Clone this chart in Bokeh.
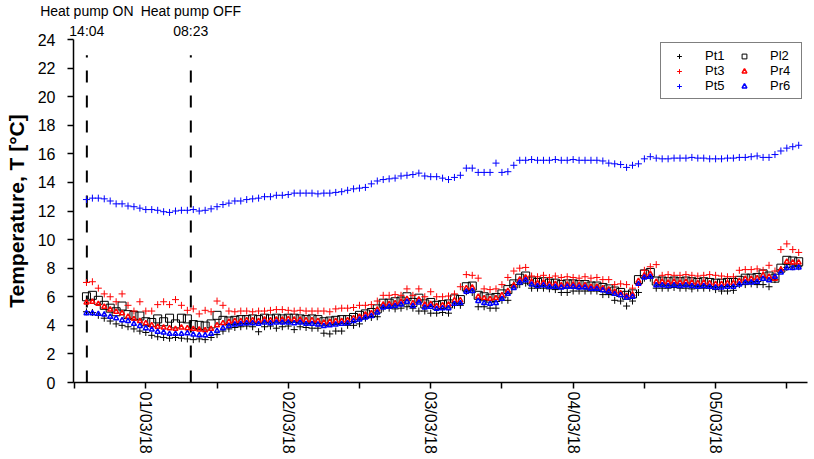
import pandas as pd
from bokeh.plotting import figure
from bokeh.models import (Range1d, FixedTicker, Legend, LegendItem, DatetimeTickFormatter,
                          DatetimeAxis)
from bokeh.embed import file_html
from bokeh.resources import INLINE

FONT = "Liberation Sans"

# hourly readings from 28/02/18 14:00 to 05/03/18 14:00
START = "2018-02-28 14:00"

PT1 = [4.95, 4.9, 4.7, 4.5, 4.3, 4.1, 4.0, 3.9, 3.75, 3.6,
       3.5, 3.3, 3.2, 3.15, 3.1, 3.15, 3.1, 3.05, 3.0, 3.05,
       3.0, 3.15, 3.35, 3.6, 3.75, 3.85, 3.9, 3.95, 3.9, 3.55,
       3.9, 3.95, 3.8, 3.9, 3.95, 3.7, 3.9, 3.85, 3.8, 3.8,
       3.45, 3.4, 3.6, 3.6, 4.0, 4.0, 4.1, 4.5, 4.55, 4.6,
       5.2, 5.2, 5.15, 5.2, 5.3, 5.2, 5.0, 5.0, 4.85, 4.85,
       4.9, 4.85, 5.4, 5.4, 6.35, 6.3, 5.3, 5.3, 5.2, 5.2,
       5.75, 5.75, 6.85, 6.85, 6.95, 6.6, 6.6, 6.6, 6.55, 6.5,
       6.3, 6.3, 6.4, 6.4, 6.4, 6.4, 6.4, 6.15, 6.15, 5.75,
       5.7, 5.35, 5.7, 6.3, 7.3, 7.3, 6.6, 6.6, 6.6, 6.65,
       6.6, 6.6, 6.55, 6.6, 6.6, 6.6, 6.5, 6.4, 6.4, 6.45,
       6.85, 6.85, 6.9, 6.85, 6.85, 6.7, 7.2, 7.9, 8.05, 8.1,
       8.1]

PL2 = [6.0, 6.1, 5.75, 5.4, 5.2, 4.95, 5.35, 4.75, 4.7, 4.65,
       4.25, 4.2, 4.45, 4.25, 4.5, 4.1, 4.5, 4.45, 4.05, 4.0,
       3.95, 4.1, 4.7, 4.35, 4.3, 4.35, 4.4, 4.4, 4.45, 4.4,
       4.5, 4.45, 4.5, 4.45, 4.5, 4.5, 4.45, 4.4, 4.45, 4.4,
       4.25, 4.3, 4.35, 4.4, 4.4, 4.55, 4.7, 4.8, 4.9, 5.15,
       5.55, 5.55, 5.65, 5.7, 6.0, 5.6, 5.9, 5.5, 5.6, 5.4,
       5.45, 5.5, 5.85, 5.8, 6.7, 6.75, 6.1, 6.0, 5.9, 5.95,
       6.2, 6.5, 6.9, 7.3, 7.45, 7.1, 7.0, 7.05, 6.95, 6.95,
       6.85, 6.9, 6.9, 6.85, 6.85, 6.75, 6.75, 6.65, 6.55, 6.4,
       6.3, 6.1, 6.2, 7.2, 7.6, 7.7, 7.1, 7.1, 7.05, 7.1,
       7.05, 7.1, 7.05, 7.0, 7.05, 7.0, 6.95, 6.95, 7.0, 7.0,
       7.15, 7.3, 7.3, 7.35, 7.6, 7.45, 7.3, 8.0, 8.55, 8.5,
       8.45]

PT3 = [7.0, 7.05, 6.6, 6.2, 6.0, 5.65, 6.2, 5.4, 5.0, 5.65,
       5.0, 5.0, 5.45, 5.65, 5.45, 5.8, 5.4, 5.05, 5.15, 4.8,
       5.05, 4.95, 5.7, 5.4, 5.0, 4.95, 5.0, 5.0, 4.95, 5.0,
       5.0, 5.05, 5.1, 5.1, 5.05, 5.0, 5.05, 5.0, 5.0, 5.0,
       5.0, 4.95, 5.15, 5.2, 5.2, 5.25, 5.4, 5.4, 5.45, 5.7,
       6.1, 6.1, 6.15, 6.1, 6.55, 6.1, 6.55, 6.0, 6.35, 6.0,
       6.0, 6.05, 6.2, 6.7, 7.55, 7.5, 7.3, 6.55, 6.5, 6.55,
       6.85, 7.35, 7.8, 8.0, 8.05, 7.45, 7.4, 7.5, 7.35, 7.45,
       7.35, 7.4, 7.35, 7.3, 7.4, 7.3, 7.35, 7.2, 7.2, 6.85,
       6.9, 6.85, 6.6, 6.85, 7.85, 8.1, 8.25, 7.5, 7.55, 7.5,
       7.5, 7.55, 7.5, 7.45, 7.5, 7.55, 7.5, 7.45, 7.4, 7.4,
       7.85, 7.9, 7.9, 7.95, 7.85, 8.2, 7.8, 9.3, 9.7, 9.3,
       9.1]

PR4 = [5.6, 5.65, 5.5, 5.3, 5.1, 4.95, 4.85, 4.6, 4.45, 4.3,
       4.15, 4.0, 3.9, 3.85, 3.8, 3.75, 3.85, 3.8, 3.75, 3.7,
       3.65, 3.75, 4.0, 4.15, 4.25, 4.3, 4.3, 4.35, 4.35, 4.3,
       4.4, 4.35, 4.4, 4.4, 4.45, 4.4, 4.4, 4.35, 4.35, 4.3,
       4.2, 4.25, 4.3, 4.3, 4.35, 4.5, 4.6, 4.75, 4.85, 5.1,
       5.45, 5.5, 5.55, 5.65, 5.85, 5.55, 5.8, 5.45, 5.5, 5.35,
       5.4, 5.45, 5.75, 5.75, 6.6, 6.65, 6.0, 5.9, 5.85, 5.9,
       6.1, 6.4, 6.8, 7.2, 7.35, 7.05, 6.95, 7.0, 6.9, 6.9,
       6.8, 6.85, 6.85, 6.8, 6.8, 6.7, 6.7, 6.6, 6.5, 6.35,
       6.25, 6.05, 6.15, 7.1, 7.5, 7.6, 7.05, 7.05, 7.0, 7.05,
       7.0, 7.05, 7.0, 6.95, 7.0, 6.95, 6.9, 6.9, 6.95, 6.95,
       7.1, 7.25, 7.25, 7.3, 7.5, 7.4, 7.25, 7.9, 8.45, 8.4,
       8.4]

PT5 = [12.8, 12.9, 12.9, 12.85, 12.7, 12.5, 12.5, 12.35, 12.3, 12.2,
       12.1, 12.1, 12.05, 11.95, 11.9, 12.0, 12.05, 12.05, 12.1, 12.0,
       12.05, 12.15, 12.3, 12.45, 12.55, 12.7, 12.7, 12.8, 12.85, 12.9,
       13.0, 13.0, 13.1, 13.1, 13.15, 13.25, 13.25, 13.25, 13.25, 13.2,
       13.25, 13.25, 13.3, 13.35, 13.45, 13.55, 13.6, 13.65, 13.9, 14.1,
       14.2, 14.25, 14.3, 14.45, 14.5, 14.55, 14.65, 14.45, 14.4, 14.4,
       14.3, 14.2, 14.35, 14.5, 15.0, 15.0, 14.7, 14.7, 14.7, 15.35,
       14.7, 14.75, 15.2, 15.55, 15.55, 15.6, 15.55, 15.55, 15.55, 15.6,
       15.55, 15.55, 15.6, 15.55, 15.55, 15.55, 15.55, 15.5, 15.35, 15.3,
       15.25, 15.05, 15.2, 15.3, 15.65, 15.8, 15.7, 15.65, 15.65, 15.7,
       15.7, 15.7, 15.75, 15.7, 15.7, 15.65, 15.65, 15.65, 15.7, 15.7,
       15.75, 15.75, 15.8, 15.85, 15.75, 15.75, 15.95, 16.2, 16.4, 16.5,
       16.6]

PR6 = [4.85, 4.85, 4.8, 4.75, 4.6, 4.5, 4.35, 4.3, 4.1, 3.95,
       3.8, 3.7, 3.55, 3.5, 3.4, 3.4, 3.4, 3.45, 3.35, 3.3,
       3.3, 3.4, 3.6, 3.8, 3.95, 4.05, 4.1, 4.15, 4.15, 4.1,
       4.2, 4.15, 4.2, 4.2, 4.2, 4.15, 4.2, 4.1, 4.1, 4.05,
       3.95, 4.0, 4.05, 4.1, 4.15, 4.3, 4.4, 4.55, 4.65, 4.9,
       5.25, 5.3, 5.35, 5.45, 5.65, 5.35, 5.6, 5.25, 5.3, 5.15,
       5.2, 5.2, 5.5, 5.55, 6.35, 6.4, 5.7, 5.55, 5.5, 5.55,
       5.85, 6.2, 6.6, 7.0, 7.15, 6.85, 6.75, 6.8, 6.7, 6.7,
       6.65, 6.7, 6.7, 6.65, 6.65, 6.55, 6.55, 6.45, 6.35, 6.2,
       6.1, 5.95, 6.0, 6.9, 7.35, 7.4, 6.8, 6.8, 6.75, 6.8,
       6.75, 6.8, 6.75, 6.7, 6.75, 6.7, 6.65, 6.65, 6.7, 6.7,
       6.85, 7.0, 7.0, 7.05, 7.25, 7.15, 7.4, 7.7, 8.0, 8.0,
       8.05]

SERIES_NAMES = ["Pt1", "Pl2", "Pt3", "Pr4", "Pt5", "Pr6"]

EVENT_TIMES = ["2018-02-28 14:04", "2018-03-01 07:35"]
EVENT_TITLES = ["Heat pump ON", "Heat pump OFF"]
EVENT_CLOCKS = ["14:04", "08:23"]

TICK_DATES = ["2018-03-01", "2018-03-02", "2018-03-03", "2018-03-04", "2018-03-05"]
TICK_LABELS = ["01/03/18", "02/03/18", "03/03/18", "04/03/18", "05/03/18"]
MINOR_TICK_DATES = ["2018-02-28 12:00", "2018-03-01 12:00", "2018-03-02 12:00",
                    "2018-03-03 12:00", "2018-03-04 12:00", "2018-03-05 12:00"]
Y_TICKS = [0, 2, 4, 6, 8, 10, 12, 14, 16, 18, 20, 22, 24]

X_START = "2018-02-28 11:49"
X_END = "2018-03-05 15:29"


def ms(s):
    return float(pd.Timestamp(s).value // 10**6)


times = list(pd.date_range(START, periods=len(PT1), freq="h").to_pydatetime())
events = [pd.Timestamp(t).to_pydatetime() for t in EVENT_TIMES]

p = figure(width=808, height=456, x_axis_type="datetime",
           x_range=Range1d(pd.Timestamp(X_START).to_pydatetime(), pd.Timestamp(X_END).to_pydatetime()),
           y_range=Range1d(0, 24),
           output_backend="svg", toolbar_location=None,
           min_border_left=73, min_border_right=1, min_border_top=38, min_border_bottom=73)
p.outline_line_color = None
p.xgrid.visible = False
p.ygrid.visible = False
p.background_fill_color = "white"
p.border_fill_color = "white"

# bottom date axis
xa = p.xaxis[0]
xa.ticker = FixedTicker(ticks=[ms(d) for d in TICK_DATES],
                        minor_ticks=[ms(d) for d in MINOR_TICK_DATES])
xa.formatter = DatetimeTickFormatter(days="%d/%m/%y", months="%d/%m/%y", hours="%d/%m/%y",
                                     hourmin="%d/%m/%y")
xa.major_label_overrides = {ms(d): lab for d, lab in zip(TICK_DATES, TICK_LABELS)}
xa.major_label_orientation = "vertical"
xa.major_label_text_font = FONT
xa.major_label_text_font_size = "16px"
xa.major_label_text_color = "black"
xa.major_label_standoff = 3
xa.major_tick_in = 0
xa.major_tick_out = 6
xa.minor_tick_in = 0
xa.minor_tick_out = 6
xa.axis_line_width = 1.5
xa.major_tick_line_width = 1.5
xa.minor_tick_line_width = 1.5
xa.axis_line_color = "black"
xa.major_tick_line_color = "black"
xa.minor_tick_line_color = "black"

# event notes above the frame, placed at the event times
top = DatetimeAxis(ticker=FixedTicker(ticks=[ms(t) for t in EVENT_TIMES]),
                   major_label_overrides={ms(t): f"{a}\n{b}" for t, a, b in
                                          zip(EVENT_TIMES, EVENT_TITLES, EVENT_CLOCKS)},
                   axis_line_color=None, major_tick_line_color=None, minor_tick_line_color=None,
                   major_tick_in=0, major_tick_out=0, minor_tick_in=0, minor_tick_out=0,
                   major_label_standoff=1, major_label_text_font=FONT,
                   major_label_text_font_size="14px", major_label_text_color="black")
p.add_layout(top, "above")

ya = p.yaxis[0]
ya.ticker = FixedTicker(ticks=Y_TICKS)
ya.major_label_text_font = FONT
ya.major_label_text_font_size = "16px"
ya.major_label_text_color = "black"
ya.major_label_standoff = 12
ya.major_tick_in = 0
ya.major_tick_out = 6
ya.minor_tick_line_color = None
ya.axis_line_width = 1.5
ya.major_tick_line_width = 1.5
ya.axis_line_color = "black"
ya.major_tick_line_color = "black"
ya.axis_label = "Temperature, T [°C]"
ya.axis_label_text_font = FONT
ya.axis_label_text_font_size = "21px"
ya.axis_label_text_font_style = "bold"
ya.axis_label_text_color = "black"
ya.axis_label_standoff = 7

# heat pump event lines
p.segment(x0=events, y0=0, x1=events, y1=22.9, line_color="black",
          line_width=2, line_dash="12 13")

# series
r1 = p.scatter(times, PT1, marker="cross", size=7, line_color="black", line_width=1)
r2 = p.scatter(times, PL2, marker="square", size=8, fill_color=None, line_color="black", line_width=1)
r3 = p.scatter(times, PT3, marker="cross", size=7, line_color="red", line_width=1)
r4 = p.scatter(times, PR4, marker="triangle", size=5, fill_color=None, line_color="red", line_width=1.5)
r5 = p.scatter(times, PT5, marker="cross", size=7, line_color="blue", line_width=1)
r6 = p.scatter(times, PR6, marker="triangle", size=5, fill_color=None, line_color="blue", line_width=1.5)

rends = [r1, r2, r3, r4, r5, r6]
items = [LegendItem(label=n, renderers=[r]) for n, r in zip(SERIES_NAMES, rends)]
legend = Legend(items=items, orientation="horizontal", ncols=2, location=(587, 283),
                label_text_font=FONT, label_text_font_size="13px", label_text_color="black",
                glyph_width=26, glyph_height=12, label_height=12, label_width=26,
                label_standoff=13, spacing=0, padding=5, margin=0,
                border_line_color="black", border_line_width=1, background_fill_color="white")
p.add_layout(legend)

open("out.html", "w").write(file_html(p, INLINE))
